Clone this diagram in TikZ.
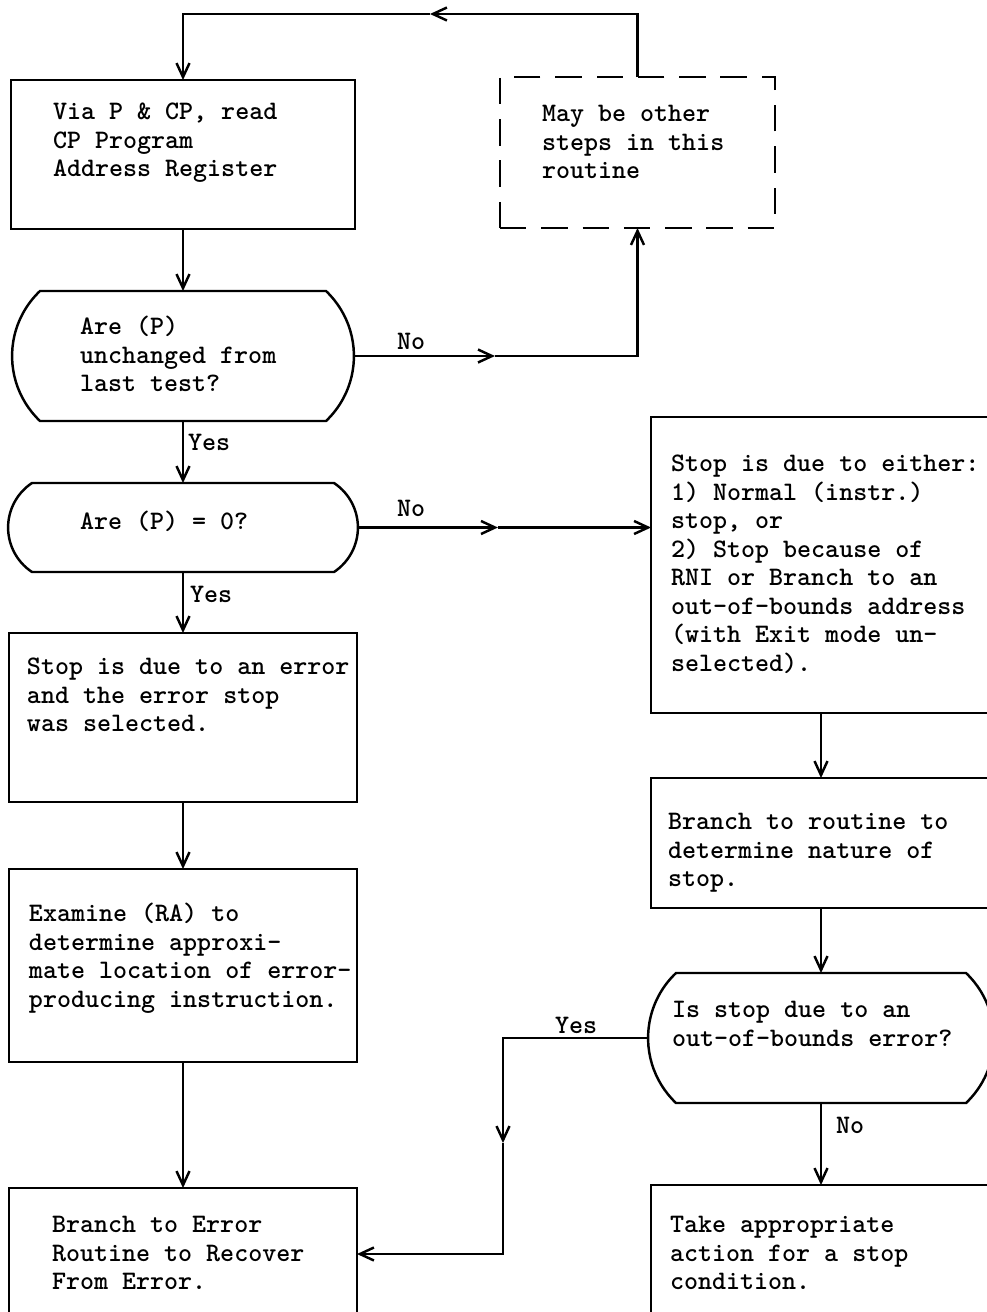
\documentclass[tikz,border=0pt]{standalone}
\usetikzlibrary{arrows.meta,calc,fit,shapes.misc}
\newcommand{\flowfont}{\ttfamily\bfseries\fontsize{15.2}{16.2}\selectfont}

\begin{document}
\begin{tikzpicture}[x=0.02cm, y=-0.02cm]
\tikzset{ >={Straight Barb[length=2.8mm,width=2.6mm]}, inner sep=0pt, outer sep=0pt,
  flow/.style={line width=1.4pt},
  proc/.style={draw, rectangle, line width=1.4pt},
  dashbox/.style={proc, dash pattern=on 15pt off 8.5pt},
  test/.style={draw, rounded rectangle, line width=1.4pt},
  txt/.style={anchor=north west, align=left, font=\flowfont},
  lbl/.style={anchor=base west, font=\flowfont},
}

\useasboundingbox (0,0) rectangle (987,1312);
\clip (0,0) rectangle (987,1312);

%\draw [lightgray, dashed] (0,0) grid[step=50] (987,1312);

% left column
\node [proc, fit={(11,80) (355,229)}] (via) {};
\node [dashbox, fit={(500,77) (775,228)}] (other) {};
\node [test, rounded rectangle arc length=93, fit={(40,291) (326,421)}] (same) {};
\node [test, rounded rectangle arc length=113, fit={(32,483) (334,572)}] (zero) {};
\node [proc, fit={(9,633) (357,802)}] (err) {};
\node [proc, fit={(9,869) (357,1062)}] (exam) {};
\node [proc, fit={(9,1188) (357,1320)}] (recover) {};

% right column
\node [proc, fit={(651,417) (991,713)}] (why) {};
\node [proc, fit={(651,778) (991,908)}] (nature) {};
\node [test, rounded rectangle arc length=93, fit={(676,973) (966,1103)}] (oob) {};
\node [proc, fit={(651,1185) (991,1320)}] (act) {};

% texts
\node [txt] (via-t) at (53,100) {\strut Via P \& CP, read\\CP Program\\Address Register};
\node [txt] (other-t) at (542,102) {\strut May be other\\steps in this\\routine};
\node [txt] (same-t) at (80,315) {\strut Are (P)\\unchanged from\\last test?};
\node [txt] (zero-t) at (80,510) {\strut Are (P) = 0?};
\node [txt] (err-t) at (27,655) {\strut Stop is due to an error\\and the error stop\\was selected.};
\node [txt] (exam-t) at (29,902) {\strut Examine (RA) to\\determine approxi-\\mate location of error-\\producing instruction.};
\node [txt] (recover-t) at (52,1213) {\strut Branch to Error\\Routine to Recover\\From Error.};

\node [txt] (why-t) at (671,452) {\strut Stop is due to either:\\1) Normal (instr.)\\stop, or\\2) Stop because of\\RNI or Branch to an\\out-of-bounds address\\(with Exit mode un-\\selected).};
\node [txt] (nature-t) at (668,810) {\strut Branch to routine to\\determine nature of\\stop.};
\node [txt] (oob-t) at (672,998) {\strut Is stop due to an\\out-of-bounds error?};
\node [txt] (act-t) at (670,1213) {\strut Take appropriate\\action for a stop\\condition.};

% bends
\coordinate (loop) at (430,14);
\coordinate (no1) at ($(same.east)+(141,0)$);
\coordinate (no2) at ($(zero.east)+(140,0)$);
\coordinate (yesdn) at (503,1143);

% connectors
\draw [flow,->] (other.north) |- (loop);
\draw [flow,->] (loop) -| (via.north);
\draw [flow,->] (via.south) -- (via.south |- same.north);
\draw [flow,->] (same.east) -- (no1);
\draw [flow,->] (no1) -| (other.south);
\draw [flow,->] (same.south) -- (same.south |- zero.north);
\draw [flow,->] (zero.east) -- (no2);
\draw [flow,->] (no2) -- (no2 -| why.west);
\draw [flow,->] (zero.south) -- (zero.south |- err.north);
\draw [flow,->] (err.south) -- (err.south |- exam.north);
\draw [flow,->] (exam.south) -- (exam.south |- recover.north);

\draw [flow,->] (why.south) -- (why.south |- nature.north);
\draw [flow,->] (nature.south) -- (nature.south |- oob.north);
\draw [flow,->] (oob.west) -| (yesdn);
\draw [flow,->] (yesdn) |- (recover.east);
\draw [flow,->] (oob.south) -- (oob.south |- act.north);

% labels
\node [lbl] (no1-l) at (397,349) {No};
\node [lbl] (yes1-l) at (188,450) {Yes};
\node [lbl] (no2-l) at (397,516) {No};
\node [lbl] (yes2-l) at (190,602) {Yes};
\node [lbl] (yes3-l) at (555,1033) {Yes};
\node [lbl] (no3-l) at (836,1133) {No};

\end{tikzpicture}
\end{document}
